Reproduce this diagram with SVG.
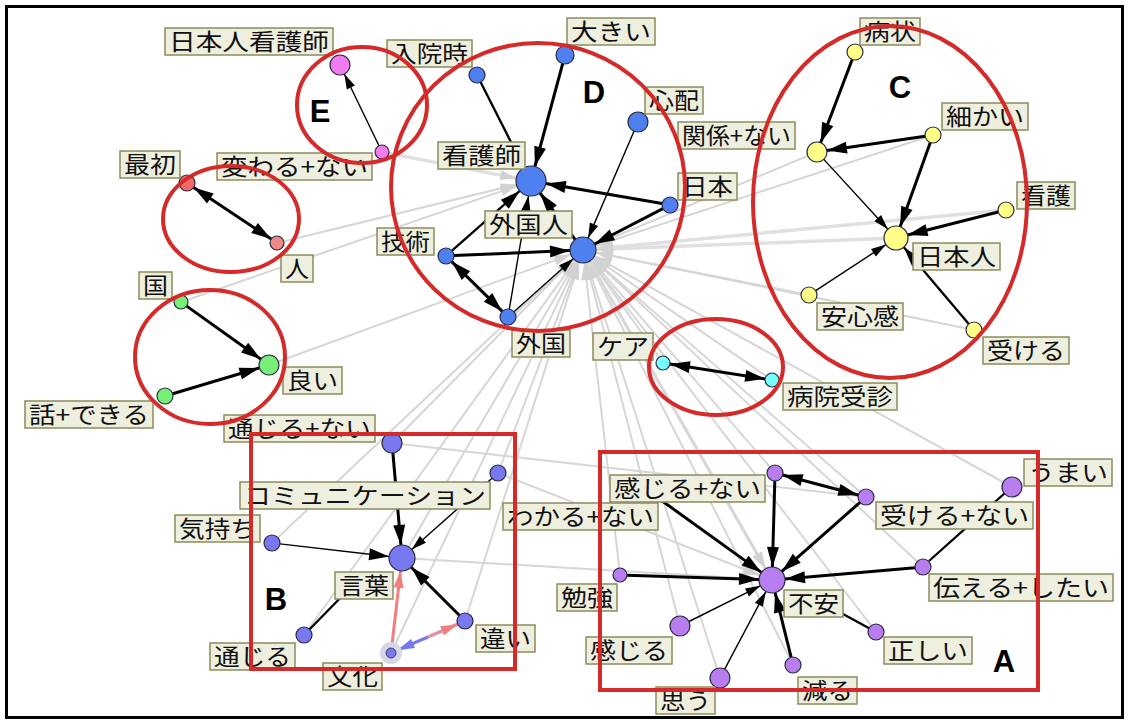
<svg xmlns="http://www.w3.org/2000/svg" width="1129" height="720" viewBox="0 0 1129 720">
<style>
.lb rect{fill:#efefdf;stroke:#8c8c5c;stroke-width:1.5}
.lb text{font-family:"Noto Sans CJK JP","Noto Sans CJK SC",sans-serif;font-size:23px;fill:#111}
.nd{stroke:#2a2a40;stroke-width:1.2}
.gr line{stroke:#d6d6d6;stroke-width:2;fill:none}
.gr line.w{stroke:#e0e0e0;stroke-width:3.5}
.bk line{stroke:#000;fill:none}
.thk{stroke-width:3}
.thn{stroke-width:1.4}
.med{stroke-width:2.3}
.red{fill:none;stroke:#d42a2a;stroke-width:4}
.let{font-family:"Liberation Sans",Arial,sans-serif;font-weight:bold;font-size:31px;fill:#000;text-anchor:middle}
</style>
<defs>
<marker id="ab" markerUnits="userSpaceOnUse" orient="auto-start-reverse" overflow="visible" markerWidth="1" markerHeight="1" refX="0" refY="0"><path d="M0,0 L-20,-6 L-20,6 z" fill="#000"/></marker>
<marker id="as" markerUnits="userSpaceOnUse" orient="auto-start-reverse" overflow="visible" markerWidth="1" markerHeight="1" refX="0" refY="0"><path d="M0,0 L-15,-4.5 L-15,4.5 z" fill="#000"/></marker>
<marker id="ap" markerUnits="userSpaceOnUse" orient="auto" overflow="visible" markerWidth="1" markerHeight="1" refX="0" refY="0"><path d="M0,0 L-17,-5 L-17,5 z" fill="#f08080"/></marker>
<marker id="abl" markerUnits="userSpaceOnUse" orient="auto" overflow="visible" markerWidth="1" markerHeight="1" refX="0" refY="0"><path d="M0,0 L-17,-5 L-17,5 z" fill="#7777ee"/></marker>
<marker id="g13" markerUnits="userSpaceOnUse" orient="auto" overflow="visible" markerWidth="1" markerHeight="1" refX="0" refY="0"><path d="M-13,0 L-30,-5.5 L-30,5.5 z" fill="#d2d2d2"/></marker>
<marker id="g15" markerUnits="userSpaceOnUse" orient="auto" overflow="visible" markerWidth="1" markerHeight="1" refX="0" refY="0"><path d="M-15,0 L-31,-5 L-31,5 z" fill="#d2d2d2"/></marker>
</defs>
<rect x="0" y="0" width="1129" height="720" fill="#fff"/>
<rect x="6.5" y="6.5" width="1116" height="711" fill="none" stroke="#000" stroke-width="3"/>

<g id="connectors">
 <g class="gr">
  <line x1="402" y1="558" x2="583" y2="250" marker-end="url(#g13)"/>
  <line x1="304" y1="635" x2="583" y2="250" marker-end="url(#g13)"/>
  <line x1="465" y1="621" x2="583" y2="250" marker-end="url(#g13)"/>
  <line x1="391" y1="653" x2="583" y2="250" marker-end="url(#g13)"/>
  <line x1="498" y1="473" x2="583" y2="250" marker-end="url(#g13)"/>
  <line x1="392" y1="443" x2="583" y2="250" marker-end="url(#g13)"/>
  <line x1="272" y1="543" x2="583" y2="250" marker-end="url(#g13)"/>
  <line x1="620" y1="575" x2="583" y2="250" marker-end="url(#g13)"/>
  <line x1="680" y1="626" x2="583" y2="250" marker-end="url(#g13)"/>
  <line x1="720" y1="678" x2="583" y2="250" marker-end="url(#g13)"/>
  <line x1="793" y1="665" x2="583" y2="250" marker-end="url(#g13)"/>
  <line class="w" x1="772" y1="580" x2="583" y2="250" marker-end="url(#g13)"/>
  <line x1="775" y1="473" x2="583" y2="250" marker-end="url(#g13)"/>
  <line x1="866" y1="497" x2="583" y2="250" marker-end="url(#g13)"/>
  <line x1="1012" y1="487" x2="583" y2="250" marker-end="url(#g13)"/>
  <line x1="923" y1="567" x2="583" y2="250" marker-end="url(#g13)"/>
  <line x1="876" y1="632" x2="583" y2="250" marker-end="url(#g13)"/>
  <line x1="663" y1="363" x2="583" y2="250" marker-end="url(#g13)"/>
  <line x1="772" y1="380" x2="583" y2="250" marker-end="url(#g13)"/>
  <line x1="809" y1="295" x2="583" y2="250" marker-end="url(#g13)"/>
  <line x1="974" y1="330" x2="583" y2="250" marker-end="url(#g13)"/>
  <line class="w" x1="1006" y1="210" x2="583" y2="250" marker-end="url(#g13)"/>
  <line class="w" x1="896" y1="238" x2="583" y2="250" marker-end="url(#g13)"/>
  <line x1="817" y1="152" x2="583" y2="250" marker-end="url(#g13)"/>
  <line x1="933" y1="135" x2="583" y2="250" marker-end="url(#g13)"/>
  <line x1="269" y1="365" x2="583" y2="250" marker-end="url(#g13)"/>
  <line x1="277" y1="243" x2="531" y2="181" marker-end="url(#g15)"/>
  <line x1="181" y1="302" x2="531" y2="181" marker-end="url(#g15)"/>
  <line class="w" x1="382" y1="152" x2="531" y2="181" marker-end="url(#g15)"/>
  <line x1="583" y1="250" x2="772" y2="580" marker-end="url(#g13)"/>
  <line x1="402" y1="558" x2="772" y2="580" marker-end="url(#g13)"/>
  <line x1="498" y1="473" x2="772" y2="580" marker-end="url(#g13)"/>
  <line x1="392" y1="443" x2="866" y2="497"/>
 </g>
 <g class="bk">
  <line class="thn" x1="379" y1="145.7" x2="344.3" y2="74" marker-end="url(#as)"/>
  <line class="thk" x1="193.7" y1="187.4" x2="271.2" y2="239.1" marker-start="url(#ab)" marker-end="url(#ab)"/>
  <line class="thk" x1="186.7" y1="306.1" x2="260.9" y2="359.2" marker-end="url(#ab)"/>
  <line class="thk" x1="172.7" y1="393.7" x2="259.4" y2="367.9" marker-end="url(#ab)"/>
  <line class="med" x1="477" y1="75" x2="516" y2="152"/>
  <line class="thk" x1="562.7" y1="63.7" x2="534.9" y2="166.5" marker-end="url(#ab)"/>
  <line class="thn" x1="634" y1="131.2" x2="588.1" y2="238.1" marker-end="url(#as)"/>
  <line class="thk" x1="662.1" y1="203.6" x2="545.8" y2="183.6" marker-end="url(#ab)"/>
  <line class="thk" x1="662.9" y1="208.7" x2="594.6" y2="244" marker-end="url(#ab)"/>
  <line class="med" x1="452" y1="250.7" x2="519.8" y2="190.9" marker-end="url(#ab)"/>
  <line class="thk" x1="454" y1="255.6" x2="570" y2="250.6" marker-end="url(#ab)"/>
  <line class="thk" x1="451.7" y1="261.6" x2="502.3" y2="311.4" marker-start="url(#ab)" marker-end="url(#ab)"/>
  <line class="thn" x1="514" y1="311.7" x2="573.3" y2="258.7" marker-end="url(#as)"/>
  <line class="thn" x1="509.3" y1="309.1" x2="528.5" y2="195.8" marker-end="url(#ab)"/>
  <line class="thk" x1="575.2" y1="239.6" x2="540" y2="193" marker-end="url(#ab)"/>
  <line class="thk" x1="852.2" y1="59.5" x2="820.6" y2="142.7" marker-end="url(#ab)"/>
  <line class="thk" x1="925.1" y1="136.2" x2="826.9" y2="150.5" marker-end="url(#ab)"/>
  <line class="thk" x1="930.3" y1="142.5" x2="900.1" y2="226.7" marker-end="url(#ab)"/>
  <line class="thn" x1="823.8" y1="159.4" x2="887.9" y2="229.2" marker-end="url(#as)"/>
  <line class="thk" x1="998.2" y1="212" x2="907.6" y2="235" marker-end="url(#ab)"/>
  <line class="thn" x1="815.7" y1="290.6" x2="886" y2="244.6" marker-end="url(#as)"/>
  <line class="med" x1="968.8" y1="323.9" x2="903.8" y2="247.2" marker-end="url(#ab)"/>
  <line class="thk" x1="669.9" y1="364.1" x2="765.1" y2="378.9" marker-start="url(#ab)" marker-end="url(#ab)"/>
  <line class="thk" x1="392.9" y1="453" x2="400.9" y2="545" marker-end="url(#ab)"/>
  <line class="thn" x1="492" y1="478.3" x2="411.7" y2="549.4" marker-end="url(#as)"/>
  <line class="thn" x1="280" y1="543.9" x2="389.1" y2="556.5" marker-end="url(#ab)"/>
  <line class="med" x1="304" y1="635" x2="350" y2="588"/>
  <line class="thk" x1="459.3" y1="615.3" x2="411.2" y2="567.2" marker-end="url(#ab)"/>
  <line x1="391.6" y1="648" x2="400.5" y2="570.9" stroke="#f08080" style="stroke:#f08080;stroke-width:3" marker-end="url(#ap)"/>
  <line x1="428" y1="637" x2="457.7" y2="624.2" style="stroke:#e090a8;stroke-width:3.5" marker-end="url(#ap)"/>
  <line x1="428" y1="637" x2="397.4" y2="650.2" style="stroke:#7777ee;stroke-width:3" marker-end="url(#abl)"/>
  <line class="thk" x1="782.7" y1="475" x2="858.3" y2="495" marker-start="url(#ab)" marker-end="url(#ab)"/>
  <line class="thk" x1="774.8" y1="481" x2="772.4" y2="567" marker-end="url(#ab)"/>
  <line class="thk" x1="860" y1="502.3" x2="781.8" y2="571.4" marker-end="url(#ab)"/>
  <line class="thk" x1="640" y1="485" x2="761.4" y2="572.4" marker-end="url(#ab)"/>
  <line class="thk" x1="627" y1="575.2" x2="759" y2="579.6" marker-end="url(#ab)"/>
  <line class="thk" x1="915" y1="567.7" x2="785" y2="578.9" marker-end="url(#ab)"/>
  <line class="med" x1="1005" y1="493" x2="929" y2="561"/>
  <line class="thn" x1="689" y1="621.5" x2="760.4" y2="585.8" marker-end="url(#as)"/>
  <line class="thn" x1="724.7" y1="669.2" x2="765.9" y2="591.5" marker-end="url(#as)"/>
  <line class="thk" x1="791.1" y1="657.2" x2="775.1" y2="592.6" marker-end="url(#ab)"/>
  <line class="med" x1="876" y1="632" x2="843" y2="614"/>
 </g>
</g>

<!-- E group -->
<g id="n-nihonjin-kangoshi"><circle class="nd" cx="340" cy="65" r="10" fill="#f07cf0"/><g class="lb"><rect x="165" y="28" width="168" height="27"/><text x="169" y="50" textLength="160" lengthAdjust="spacingAndGlyphs">日本人看護師</text></g></g>
<g id="n-kawaru-nai"><circle class="nd" cx="382" cy="152" r="7" fill="#f07cf0"/><g class="lb"><rect x="217" y="153" width="155" height="27"/><text x="221" y="175" textLength="147" lengthAdjust="spacingAndGlyphs">変わる+ない</text></g></g>
<!-- red group -->
<g id="n-saisho"><circle class="nd" cx="187" cy="183" r="8" fill="#f06a6a"/><g class="lb"><rect x="120" y="151" width="60" height="27"/><text x="124" y="173" textLength="52" lengthAdjust="spacingAndGlyphs">最初</text></g></g>
<g id="n-hito"><circle class="nd" cx="277" cy="243" r="7" fill="#f08888"/><g class="lb"><rect x="281" y="255" width="32" height="27"/><text x="285" y="277" textLength="24" lengthAdjust="spacingAndGlyphs">人</text></g></g>
<!-- green group -->
<g id="n-kuni"><circle class="nd" cx="181" cy="302" r="7" fill="#77ee77"/><g class="lb"><rect x="139" y="272" width="33" height="27"/><text x="143" y="294" textLength="25" lengthAdjust="spacingAndGlyphs">国</text></g></g>
<g id="n-yoi"><circle class="nd" cx="269" cy="365" r="10" fill="#77ee77"/><g class="lb"><rect x="283" y="367" width="59" height="27"/><text x="287" y="389" textLength="51" lengthAdjust="spacingAndGlyphs">良い</text></g></g>
<g id="n-hanashi-dekiru"><circle class="nd" cx="165" cy="396" r="8" fill="#77ee77"/><g class="lb"><rect x="25" y="401" width="128" height="27"/><text x="29" y="423" textLength="120" lengthAdjust="spacingAndGlyphs">話+できる</text></g></g>
<!-- D group -->
<g id="n-nyuinji"><circle class="nd" cx="477" cy="75" r="8" fill="#4f80f0"/><g class="lb"><rect x="387" y="40" width="85" height="27"/><text x="391" y="62" textLength="77" lengthAdjust="spacingAndGlyphs">入院時</text></g></g>
<g id="n-ookii"><circle class="nd" cx="565" cy="55" r="9" fill="#4f80f0"/><g class="lb"><rect x="567" y="18" width="88" height="27"/><text x="571" y="40" textLength="80" lengthAdjust="spacingAndGlyphs">大きい</text></g></g>
<g id="n-shinpai"><circle class="nd" cx="638" cy="122" r="10" fill="#4f80f0"/><g class="lb"><rect x="645" y="87" width="58" height="27"/><text x="649" y="109" textLength="50" lengthAdjust="spacingAndGlyphs">心配</text></g></g>
<g id="n-kangoshi"><circle class="nd" cx="531" cy="181" r="15" fill="#4f80f0"/><g class="lb"><rect x="438" y="142" width="87" height="27"/><text x="442" y="164" textLength="79" lengthAdjust="spacingAndGlyphs">看護師</text></g></g>
<g id="n-nihon"><circle class="nd" cx="670" cy="205" r="8" fill="#4f80f0"/><g class="lb"><rect x="678" y="173" width="59" height="27"/><text x="682" y="195" textLength="51" lengthAdjust="spacingAndGlyphs">日本</text></g></g>
<g id="n-gaikokujin"><circle class="nd" cx="583" cy="250" r="13" fill="#4f80f0"/><g class="lb"><rect x="485" y="211" width="87" height="27"/><text x="489" y="233" textLength="79" lengthAdjust="spacingAndGlyphs">外国人</text></g></g>
<g id="n-gijutsu"><circle class="nd" cx="446" cy="256" r="8" fill="#4f80f0"/><g class="lb"><rect x="377" y="228" width="57" height="27"/><text x="381" y="250" textLength="49" lengthAdjust="spacingAndGlyphs">技術</text></g></g>
<g id="n-gaikoku"><circle class="nd" cx="508" cy="317" r="8" fill="#4f80f0"/><g class="lb"><rect x="512" y="330" width="58" height="27"/><text x="516" y="352" textLength="50" lengthAdjust="spacingAndGlyphs">外国</text></g></g>
<!-- C group -->
<g id="n-byojo"><circle class="nd" cx="855" cy="52" r="8" fill="#ffff88"/><g class="lb"><rect x="860" y="18" width="60" height="27"/><text x="864" y="40" textLength="52" lengthAdjust="spacingAndGlyphs">病状</text></g></g>
<g id="n-kankei-nai"><circle class="nd" cx="817" cy="152" r="10" fill="#ffff88"/><g class="lb"><rect x="678" y="122" width="117" height="27"/><text x="682" y="144" textLength="109" lengthAdjust="spacingAndGlyphs">関係+ない</text></g></g>
<g id="n-komakai"><circle class="nd" cx="933" cy="135" r="8" fill="#ffff88"/><g class="lb"><rect x="942" y="103" width="86" height="27"/><text x="946" y="125" textLength="78" lengthAdjust="spacingAndGlyphs">細かい</text></g></g>
<g id="n-kango"><circle class="nd" cx="1006" cy="210" r="8" fill="#ffff88"/><g class="lb"><rect x="1017" y="182" width="58" height="27"/><text x="1021" y="204" textLength="50" lengthAdjust="spacingAndGlyphs">看護</text></g></g>
<g id="n-nihonjin"><circle class="nd" cx="896" cy="238" r="12" fill="#ffff88"/><g class="lb"><rect x="913" y="243" width="87" height="27"/><text x="917" y="265" textLength="79" lengthAdjust="spacingAndGlyphs">日本人</text></g></g>
<g id="n-anshinkan"><circle class="nd" cx="809" cy="295" r="8" fill="#ffff88"/><g class="lb"><rect x="817" y="303" width="86" height="27"/><text x="821" y="325" textLength="78" lengthAdjust="spacingAndGlyphs">安心感</text></g></g>
<g id="n-ukeru"><circle class="nd" cx="974" cy="330" r="8" fill="#ffff88"/><g class="lb"><rect x="983" y="337" width="86" height="27"/><text x="987" y="359" textLength="78" lengthAdjust="spacingAndGlyphs">受ける</text></g></g>
<!-- cyan group -->
<g id="n-kea"><circle class="nd" cx="663" cy="363" r="7" fill="#77ffff"/><g class="lb"><rect x="593" y="333" width="60" height="27"/><text x="597" y="355" textLength="52" lengthAdjust="spacingAndGlyphs">ケア</text></g></g>
<g id="n-byoin-jushin"><circle class="nd" cx="772" cy="380" r="7" fill="#77ffff"/><g class="lb"><rect x="783" y="383" width="114" height="27"/><text x="787" y="405" textLength="106" lengthAdjust="spacingAndGlyphs">病院受診</text></g></g>
<!-- B group -->
<g id="n-tsujiru-nai"><circle class="nd" cx="392" cy="443" r="10" fill="#7878f0"/><g class="lb"><rect x="224" y="415" width="151" height="27"/><text x="228" y="437" textLength="143" lengthAdjust="spacingAndGlyphs">通じる+ない</text></g></g>
<g id="n-communication"><g class="lb"><rect x="240" y="482" width="250" height="27"/><text x="244" y="504" textLength="242" lengthAdjust="spacingAndGlyphs">コミュニケーション</text></g></g>
<g id="n-wakaru-nai"><circle class="nd" cx="498" cy="473" r="8" fill="#7878f0"/><g class="lb"><rect x="503" y="503" width="155" height="27"/><text x="507" y="525" textLength="147" lengthAdjust="spacingAndGlyphs">わかる+ない</text></g></g>
<g id="n-kimochi"><circle class="nd" cx="272" cy="543" r="8" fill="#7878f0"/><g class="lb"><rect x="175" y="515" width="85" height="27"/><text x="179" y="537" textLength="77" lengthAdjust="spacingAndGlyphs">気持ち</text></g></g>
<g id="n-kotoba"><circle class="nd" cx="402" cy="558" r="13" fill="#7878f0"/><g class="lb"><rect x="335" y="572" width="58" height="27"/><text x="339" y="594" textLength="50" lengthAdjust="spacingAndGlyphs">言葉</text></g></g>
<g id="n-tsujiru"><circle class="nd" cx="304" cy="635" r="8" fill="#7878f0"/><g class="lb"><rect x="210" y="643" width="85" height="27"/><text x="214" y="665" textLength="77" lengthAdjust="spacingAndGlyphs">通じる</text></g></g>
<g id="n-chigai"><circle class="nd" cx="465" cy="621" r="8" fill="#7878f0"/><g class="lb"><rect x="476" y="625" width="59" height="27"/><text x="480" y="647" textLength="51" lengthAdjust="spacingAndGlyphs">違い</text></g></g>
<g id="n-bunka"><circle cx="391" cy="653" r="11" fill="#d6d6e6"/><circle class="nd" cx="391" cy="653" r="5" fill="#7777ee" style="stroke-width:0.8"/><g class="lb"><rect x="323" y="663" width="59" height="27"/><text x="327" y="685" textLength="51" lengthAdjust="spacingAndGlyphs">文化</text></g></g>
<!-- A group -->
<g id="n-kanjiru-nai"><circle class="nd" cx="775" cy="473" r="8" fill="#b87ef0"/><g class="lb"><rect x="610" y="475" width="155" height="27"/><text x="614" y="497" textLength="147" lengthAdjust="spacingAndGlyphs">感じる+ない</text></g></g>
<g id="n-ukeru-nai"><circle class="nd" cx="866" cy="497" r="8" fill="#b87ef0"/><g class="lb"><rect x="876" y="502" width="157" height="27"/><text x="880" y="524" textLength="149" lengthAdjust="spacingAndGlyphs">受ける+ない</text></g></g>
<g id="n-umai"><circle class="nd" cx="1012" cy="487" r="10" fill="#b87ef0"/><g class="lb"><rect x="1024" y="459" width="88" height="27"/><text x="1028" y="481" textLength="80" lengthAdjust="spacingAndGlyphs">うまい</text></g></g>
<g id="n-tsutaeru-shitai"><circle class="nd" cx="923" cy="567" r="8" fill="#b87ef0"/><g class="lb"><rect x="929" y="574" width="184" height="27"/><text x="933" y="596" textLength="176" lengthAdjust="spacingAndGlyphs">伝える+したい</text></g></g>
<g id="n-fuan"><circle class="nd" cx="772" cy="580" r="13" fill="#b87ef0"/><g class="lb"><rect x="784" y="590" width="59" height="27"/><text x="788" y="612" textLength="51" lengthAdjust="spacingAndGlyphs">不安</text></g></g>
<g id="n-benkyo"><circle class="nd" cx="620" cy="575" r="7" fill="#b87ef0"/><g class="lb"><rect x="557" y="584" width="60" height="27"/><text x="561" y="606" textLength="52" lengthAdjust="spacingAndGlyphs">勉強</text></g></g>
<g id="n-kanjiru"><circle class="nd" cx="680" cy="626" r="10" fill="#b87ef0"/><g class="lb"><rect x="586" y="637" width="86" height="27"/><text x="590" y="659" textLength="78" lengthAdjust="spacingAndGlyphs">感じる</text></g></g>
<g id="n-omou"><circle class="nd" cx="720" cy="678" r="10" fill="#b87ef0"/><g class="lb"><rect x="656" y="687" width="59" height="27"/><text x="660" y="709" textLength="51" lengthAdjust="spacingAndGlyphs">思う</text></g></g>
<g id="n-heru"><circle class="nd" cx="793" cy="665" r="8" fill="#b87ef0"/><g class="lb"><rect x="798" y="677" width="59" height="27"/><text x="802" y="699" textLength="51" lengthAdjust="spacingAndGlyphs">減る</text></g></g>
<g id="n-tadashii"><circle class="nd" cx="876" cy="632" r="8" fill="#b87ef0"/><g class="lb"><rect x="884" y="637" width="88" height="27"/><text x="888" y="659" textLength="80" lengthAdjust="spacingAndGlyphs">正しい</text></g></g>

<!-- red annotations -->
<g id="annotations">
 <ellipse class="red" cx="362" cy="105" rx="65" ry="58"/>
 <ellipse class="red" cx="231" cy="219" rx="68" ry="53"/>
 <ellipse class="red" cx="210" cy="357" rx="75" ry="67"/>
 <ellipse class="red" cx="538" cy="187" rx="147" ry="144"/>
 <ellipse class="red" cx="890" cy="202" rx="137" ry="176"/>
 <ellipse class="red" cx="716" cy="367" rx="67" ry="48"/>
 <rect class="red" x="251" y="434" width="264" height="235"/>
 <rect class="red" x="600" y="452" width="438" height="238"/>
 <text class="let" x="320" y="122">E</text>
 <text class="let" x="594" y="103">D</text>
 <text class="let" x="900" y="98">C</text>
 <text class="let" x="276" y="610">B</text>
 <text class="let" x="1004" y="672">A</text>
</g>
</svg>
